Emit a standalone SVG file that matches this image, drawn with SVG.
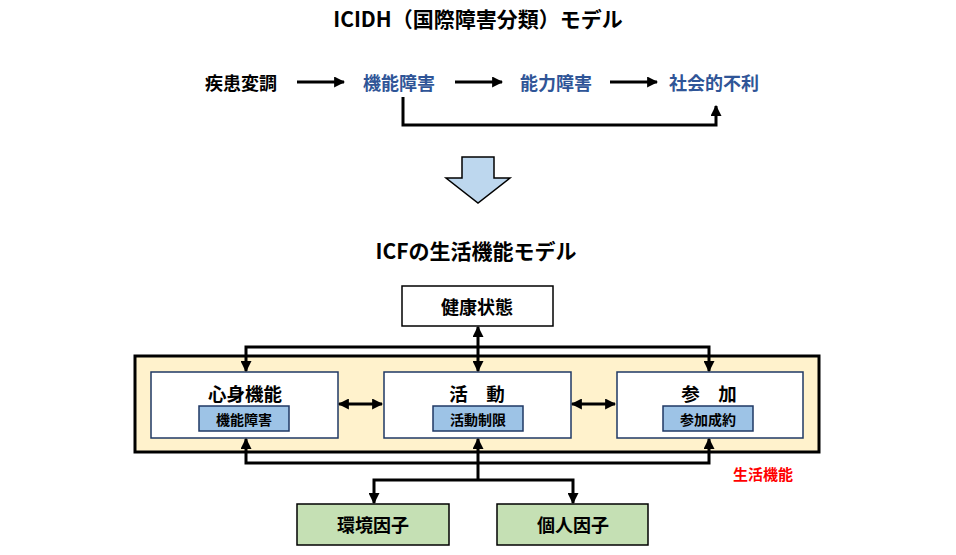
<svg xmlns="http://www.w3.org/2000/svg" width="956" height="555" viewBox="0 0 956 555">
<defs>
<marker id="ah" viewBox="0 0 10 10" refX="9" refY="5" markerWidth="11" markerHeight="11" markerUnits="userSpaceOnUse" orient="auto-start-reverse">
<path d="M0,0 L10,5 L0,10 Z" fill="#000"/>
</marker>
</defs>
<style>
text{font-family:"Noto Sans CJK JP","Noto Sans",sans-serif;font-weight:bold;text-anchor:middle;dominant-baseline:central}
.ttl{font-size:21px;fill:#000}
.blk{font-size:18px;fill:#000}
.blu{font-size:18px;fill:#2F5597}
.main{font-size:18.5px;fill:#000}
.sub{font-size:14px;fill:#000}
.red{font-size:15px;fill:#FF0000}
.con{fill:none;stroke:#000;stroke-width:3}
.box{fill:#fff;stroke:#1F3864;stroke-width:1.5}
.ibox{fill:#9DC3E6;stroke:#1F3864;stroke-width:1.5}
.gbox{fill:#C5E0B4;stroke:#000;stroke-width:1.5}
</style>
<text class="ttl" x="478" y="18">ICIDH（国際障害分類）モデル</text>
<g id="n_shikkan"><text class="blk" x="241" y="82">疾患変調</text></g>
<g id="n_kino"><text class="blu" x="399" y="82">機能障害</text></g>
<g id="n_noryoku"><text class="blu" x="556" y="82">能力障害</text></g>
<g id="n_shakai"><text class="blu" x="714" y="82">社会的不利</text></g>
<g id="block_arrow"><path d="M462,157 L494,157 L494,178 L510,178 L478,203 L446,178 L462,178 Z" fill="#BDD7EE" stroke="#000" stroke-width="1.5"/></g>
<text class="ttl" x="476" y="250">ICFの生活機能モデル</text>
<g id="n_seikatsu"><rect x="135" y="356" width="684" height="96" fill="#FFF2CC" stroke="#000" stroke-width="3"/><text class="red" x="763" y="473">生活機能</text></g>
<g id="n_kenko"><rect x="402" y="286" width="151" height="40" fill="#fff" stroke="#000" stroke-width="1.5"/><text class="blk" x="477" y="306">健康状態</text></g>
<g id="n_shinshin"><rect class="box" x="151" y="372" width="187" height="66"/><text class="main" x="245" y="393">心身機能</text><rect class="ibox" x="199" y="406" width="90" height="25"/><text class="sub" x="244" y="419">機能障害</text></g>
<g id="n_katsudo"><rect class="box" x="384" y="372" width="187" height="66"/><text class="main" x="477" y="393">活　動</text><rect class="ibox" x="433" y="406" width="90" height="25"/><text class="sub" x="478" y="419">活動制限</text></g>
<g id="n_sanka"><rect class="box" x="617" y="372" width="186" height="66"/><text class="main" x="709" y="393">参　加</text><rect class="ibox" x="663" y="406" width="90" height="25"/><text class="sub" x="708" y="419">参加成約</text></g>
<g id="n_kankyo"><rect class="gbox" x="297" y="504" width="152" height="41"/><text class="blk" x="373" y="524">環境因子</text></g>
<g id="n_kojin"><rect class="gbox" x="497" y="504" width="151" height="41"/><text class="blk" x="573" y="524">個人因子</text></g>
<g id="connectors">
<line class="con" x1="297" y1="82" x2="344" y2="82" stroke-width="2.5" marker-end="url(#ah)"/>
<line class="con" x1="455" y1="82" x2="502" y2="82" stroke-width="2.5" marker-end="url(#ah)"/>
<line class="con" x1="610" y1="82" x2="657" y2="82" stroke-width="2.5" marker-end="url(#ah)"/>
<polyline class="con" points="403,97 403,125 716,125 716,106" stroke-width="2.5" marker-end="url(#ah)"/>
<polyline class="con" points="246,371 246,347 709,347 709,371" marker-start="url(#ah)" marker-end="url(#ah)"/>
<line class="con" x1="478" y1="327" x2="478" y2="371" marker-start="url(#ah)" marker-end="url(#ah)"/>
<line class="con" x1="339" y1="404" x2="382" y2="404" marker-start="url(#ah)" marker-end="url(#ah)"/>
<line class="con" x1="572" y1="404" x2="615" y2="404" marker-start="url(#ah)" marker-end="url(#ah)"/>
<polyline class="con" points="246,439 246,463 709,463 709,439" marker-start="url(#ah)" marker-end="url(#ah)"/>
<line class="con" x1="478" y1="480" x2="478" y2="439" marker-end="url(#ah)"/>
<polyline class="con" points="374,503 374,480 573,480 573,503" marker-start="url(#ah)" marker-end="url(#ah)"/>
</g>
</svg>
